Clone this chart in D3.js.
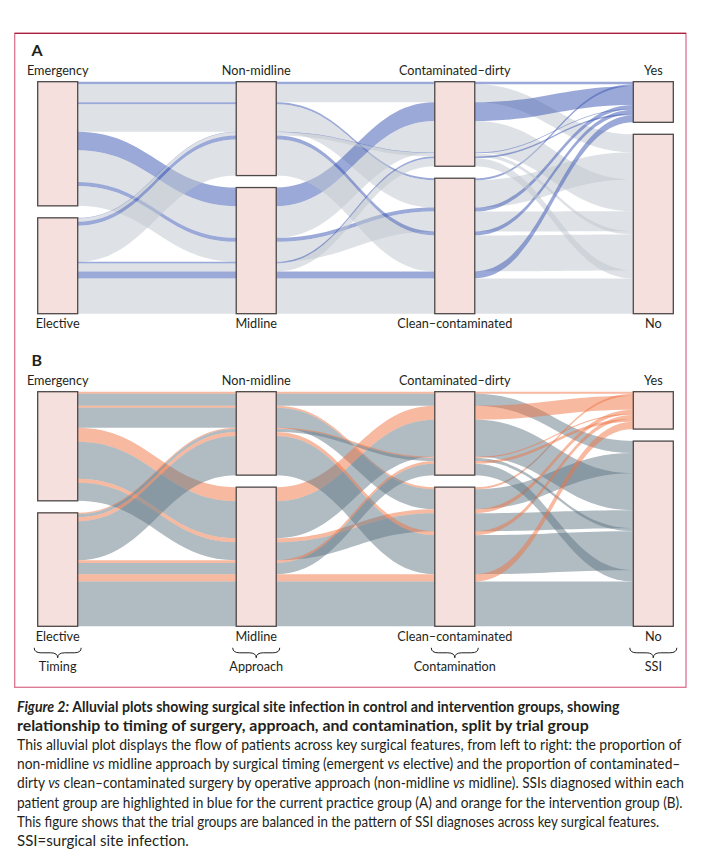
<!DOCTYPE html>
<html>
<head>
<meta charset="utf-8">
<script src="https://cdn.jsdelivr.net/npm/d3@7"></script>
<style>
  body { margin: 0; background: #fff; }
  svg { display: block; }
  text { font-family: Lato, "Open Sans", sans-serif; fill: #231f20; }
</style>
</head>
<body>
<div id="chart"></div>
<script>
const AXES = ["Timing", "Approach", "Contamination", "SSI"];
const TIMING = ["Emergency", "Elective"];
const APPROACH = ["Non-midline", "Midline"];
const CONTAMINATION = ["Contaminated–dirty", "Clean–contaminated"];
const SSI = ["Yes", "No"];
const LEVELS = [TIMING, APPROACH, CONTAMINATION, SSI];

// one alluvium per combination, ordered Timing > Approach > Contamination > SSI
const COMBOS = d3.cross(TIMING, APPROACH, CONTAMINATION, SSI);

// patients per alluvium
const CONTROL_N = [8, 54, 6, 82, 56, 95, 12, 60, 2, 10, 12, 108, 5, 24, 21, 106];
const INTERVENTION_N = [6, 36, 6, 60, 42, 111, 12, 54, 4, 9, 12, 117, 8, 34, 22, 134];

const CAPTION = [
  [["Figure 2: ", "bi"], ["Alluvial plots showing surgical site infection in control and intervention groups, showing", "b"]],
  [["relationship to timing of surgery, approach, and contamination, split by trial group", "b"]],
  [["This alluvial plot displays the flow of patients across key surgical features, from left to right: the proportion of", ""]],
  [["non-midline ", ""], ["vs", "i"], [" midline approach by surgical timing (emergent ", ""], ["vs", "i"], [" elective) and the proportion of contaminated–", ""]],
  [["dirty ", ""], ["vs", "i"], [" clean–contaminated surgery by operative approach (non-midline ", ""], ["vs", "i"], [" midline). SSIs diagnosed within each", ""]],
  [["patient group are highlighted in blue for the current practice group (A) and orange for the intervention group (B).", ""]],
  [["This figure shows that the trial groups are balanced in the pattern of SSI diagnoses across key surgical features.", ""]],
  [["SSI=surgical site infection.", ""]],
];
const CAPTION_RIGHT = [620, 589, 682, 681, 684, 683, 660, 189];

const width = 712, height = 862;
const boxW = 40, half = boxW / 2;
const GAP = 36;       // space between strata, in patients
const CURVE = 0.45;   // bezier handle length, fraction of the gap between boxes

const panels = [
  { key: "A", counts: CONTROL_N, yes: "#3753b1", no: "#bdc5cd", top: 81.7, bottom: 313.7, titles: false },
  { key: "B", counts: INTERVENTION_N, yes: "#ef7341", no: "#617785", top: 391.7, bottom: 626.3, titles: true },
];

const svg = d3.select("#chart").append("svg")
  .attr("width", width).attr("height", height);

// frame round the figure
svg.append("rect")
  .attr("x", 14.7).attr("y", 33.3).attr("width", 671.3).attr("height", 654)
  .attr("fill", "none").attr("stroke", "#dc7490").attr("stroke-width", 1.3);
svg.append("line")
  .attr("x1", 14.7).attr("x2", 686).attr("y1", 33.3).attr("y2", 33.3)
  .attr("stroke", "#a8203f").attr("stroke-width", 1.3);

const x = d3.scalePoint().domain(AXES).range([57.7, 653.3]);

/* stack lodes on every axis; within a stratum alluvia keep the
   front-to-back order of the other axes */
function layout(counts) {
  const rows = COMBOS.map((combo, i) => ({ combo, n: counts[i], lodes: [] }));
  const strata = [];
  let total = 0;
  AXES.forEach((axis, a) => {
    let y = 0;
    LEVELS[a].forEach((level, s) => {
      if (s > 0) y += GAP;
      const y0 = y;
      rows.filter((r) => r.combo[a] === level).forEach((r) => {
        r.lodes[a] = [y, y + r.n];
        y += r.n;
      });
      strata.push({ axis, level, y0, y1: y, first: s === 0 });
    });
    total = Math.max(total, y);
  });
  return { rows, strata, total };
}

function ribbon(r, y) {
  const xs = AXES.map((a) => x(a));
  const top = r.lodes.map((l) => y(l[0]));
  const bot = r.lodes.map((l) => y(l[1]));
  const p = d3.path();
  p.moveTo(xs[0] - half, top[0]);
  for (let a = 0; a < AXES.length; a++) {
    p.lineTo(xs[a] + half, top[a]);
    if (a < AXES.length - 1) {
      const x0 = xs[a] + half, x1 = xs[a + 1] - half, dx = (x1 - x0) * CURVE;
      p.bezierCurveTo(x0 + dx, top[a], x1 - dx, top[a + 1], x1, top[a + 1]);
    }
  }
  p.lineTo(xs[AXES.length - 1] + half, bot[AXES.length - 1]);
  for (let a = AXES.length - 1; a >= 0; a--) {
    p.lineTo(xs[a] - half, bot[a]);
    if (a > 0) {
      const x0 = xs[a] - half, x1 = xs[a - 1] + half, dx = (x0 - x1) * CURVE;
      p.bezierCurveTo(x0 - dx, bot[a], x1 + dx, bot[a - 1], x1, bot[a - 1]);
    }
  }
  p.closePath();
  return p.toString();
}

function brace(g, cx, y0, w, h) {
  const x1 = cx - w / 2, x2 = cx + w / 2, r = 7, ym = y0 + h / 2;
  const p = d3.path();
  p.moveTo(x1, y0);
  p.quadraticCurveTo(x1, ym, x1 + r, ym);
  p.lineTo(cx - r, ym);
  p.quadraticCurveTo(cx, ym, cx, y0 + h);
  p.quadraticCurveTo(cx, ym, cx + r, ym);
  p.lineTo(x2 - r, ym);
  p.quadraticCurveTo(x2, ym, x2, y0);
  g.append("path").attr("d", p.toString())
    .attr("fill", "none").attr("stroke", "#231f20").attr("stroke-width", 1);
}

panels.forEach((panel) => {
  const { rows, strata, total } = layout(panel.counts);
  const y = d3.scaleLinear().domain([0, total]).range([panel.top, panel.bottom]);
  const g = svg.append("g");

  g.append("g").selectAll("path")
    .data(rows)
    .join("path")
    .attr("d", (r) => ribbon(r, y))
    .attr("fill", (r) => (r.combo[3] === "Yes" ? panel.yes : panel.no))
    .attr("fill-opacity", 0.5);

  g.append("g").selectAll("rect")
    .data(strata)
    .join("rect")
    .attr("x", (d) => x(d.axis) - half)
    .attr("y", (d) => y(d.y0))
    .attr("width", boxW)
    .attr("height", (d) => y(d.y1) - y(d.y0))
    .attr("fill", "#f5e0dd")
    .attr("stroke", "#4d4848")
    .attr("stroke-width", 1.3);

  g.append("g").selectAll("text")
    .data(strata)
    .join("text")
    .attr("x", (d) => x(d.axis))
    .attr("y", (d) => (d.first ? y(d.y0) - 6.8 : y(d.y1) + 14.3))
    .attr("text-anchor", "middle")
    .attr("font-size", 12.7)
    .text((d) => d.level);

  g.append("text")
    .attr("x", 31.5)
    .attr("y", panel.top - 26)
    .attr("font-size", 16)
    .attr("font-weight", 700)
    .text(panel.key);

  if (panel.titles) {
    AXES.forEach((axis) => {
      brace(g, x(axis), panel.bottom + 21.5, 47, 10);
      g.append("text")
        .attr("x", x(axis))
        .attr("y", panel.bottom + 45)
        .attr("text-anchor", "middle")
        .attr("font-size", 12.7)
        .text(axis);
    });
  }
});

// caption, each line fitted to the width it has in the print
const cap = svg.append("g");
CAPTION.forEach((line, i) => {
  const t = cap.append("text")
    .attr("font-size", 14.5)
    .attr("transform", `translate(17, ${711.5 + i * 19.2})`);
  line.forEach(([str, style]) => {
    t.append("tspan")
      .attr("font-weight", style.includes("b") ? 700 : 400)
      .attr("font-style", style.includes("i") ? "italic" : "normal")
      .text(str);
  });
  const w = t.node().getComputedTextLength();
  const sx = (CAPTION_RIGHT[i] - 17) / w;
  t.attr("transform", `translate(17, ${711.5 + i * 19.2}) scale(${sx}, 1)`);
});
</script>
</body>
</html>
